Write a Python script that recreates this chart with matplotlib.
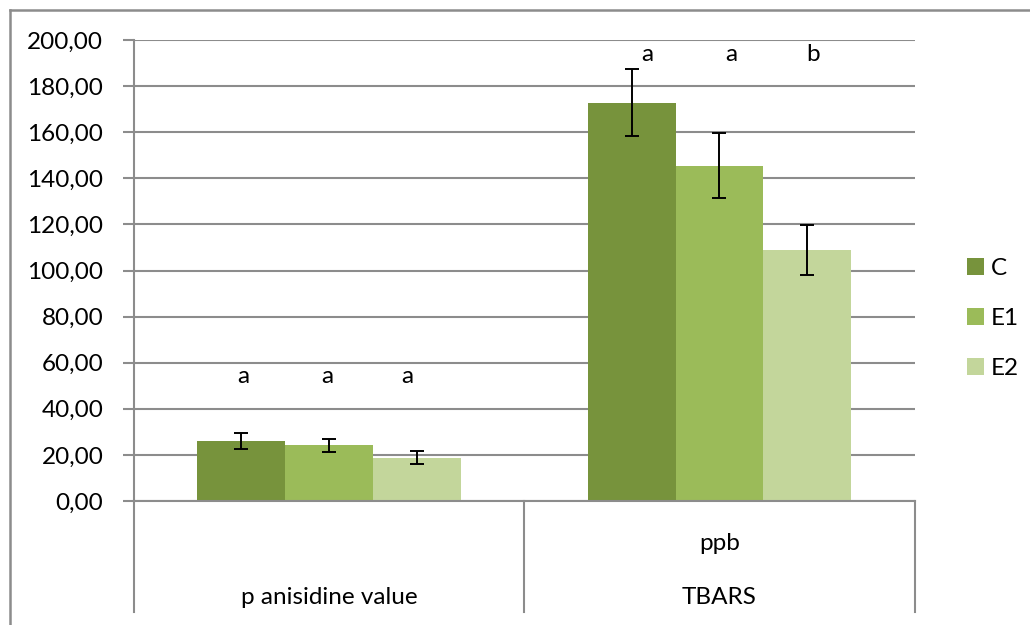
import matplotlib.pyplot as plt
import numpy as np
from matplotlib.lines import Line2D

plt.rcParams['font.family'] = ['Lato', 'DejaVu Sans']

groups = ['p anisidine value', 'TBARS']
units = ['', 'ppb']
series = ['C', 'E1', 'E2']
colors = ['#77933C', '#9BBB59', '#C3D69B']
values = {'C': [26.0, 172.8], 'E1': [24.2, 145.5], 'E2': [18.8, 108.8]}
errors = {'C': [3.5, 14.5], 'E1': [2.9, 14.1], 'E2': [2.8, 10.8]}
letters = {'C': ['a', 'a'], 'E1': ['a', 'a'], 'E2': ['a', 'b']}
letter_y = [54, 193.5]
yticks = np.arange(0, 201, 20)

fs = 17.5

fig = plt.figure(figsize=(10.3, 6.25), dpi=100)
ax = fig.add_axes([0.130, 0.1984, 0.758, 0.7376])

# chart border (only top and left edges are visible in the crop)
bx, by = 9.5 / 1030, 1 - 9.5 / 625
fig.lines.append(Line2D([bx, 1], [by, by], transform=fig.transFigure,
                        color='#8c8c8c', linewidth=1.8))
fig.lines.append(Line2D([bx, bx], [0, by], transform=fig.transFigure,
                        color='#8c8c8c', linewidth=1.8))

x = np.arange(len(groups))
w = 0.225
letter_dx = [[-0.22, -0.005, 0.2], [-0.185, 0.03, 0.24]]
for i, s in enumerate(series):
    pos = x + (i - 1) * w
    ax.bar(pos, values[s], width=w, color=colors[i], label=s, zorder=2)
    ax.errorbar(pos, values[s], yerr=errors[s], fmt='none', ecolor='black',
                elinewidth=1.4, capsize=5, capthick=1.4, zorder=3)
    for g in range(len(groups)):
        ax.text(x[g] + letter_dx[g][i], letter_y[g], letters[s][g],
                ha='center', va='center', fontsize=fs)

ax.set_xlim(-0.5, 1.5)
ax.set_ylim(0, 200)
ax.set_yticks(yticks)
ax.set_yticklabels([f'{v:.2f}'.replace('.', ',') for v in yticks], fontsize=fs)
ax.yaxis.grid(True, color='#8c8c8c', linewidth=1.5, zorder=0)
ax.set_axisbelow(True)
ax.tick_params(axis='y', length=8, width=1.5, color='#8c8c8c', pad=14)
ax.set_xticks([])
for side in ['top', 'right']:
    ax.spines[side].set_visible(False)
for side in ['left', 'bottom']:
    ax.spines[side].set_color('#8c8c8c')
    ax.spines[side].set_linewidth(1.5)

# multi-level category axis
sep_h = 111 / 461
for xs in [-0.5, 0.5, 1.5]:
    ax.plot([xs, xs], [0, -sep_h], transform=ax.get_xaxis_transform(),
            color='#8c8c8c', linewidth=1.5, clip_on=False)
for g in range(len(groups)):
    ax.text(x[g], -43 / 461, units[g], transform=ax.get_xaxis_transform(),
            ha='center', va='center', fontsize=fs)
    ax.text(x[g], -96 / 461, groups[g], transform=ax.get_xaxis_transform(),
            ha='center', va='center', fontsize=fs)

fig.legend(loc='center left', bbox_to_anchor=(0.929, 0.49), frameon=False,
           fontsize=fs, handlelength=0.7, handleheight=0.7,
           handletextpad=0.3, labelspacing=1.2, borderaxespad=0)

fig.savefig('out.png', dpi=100)
